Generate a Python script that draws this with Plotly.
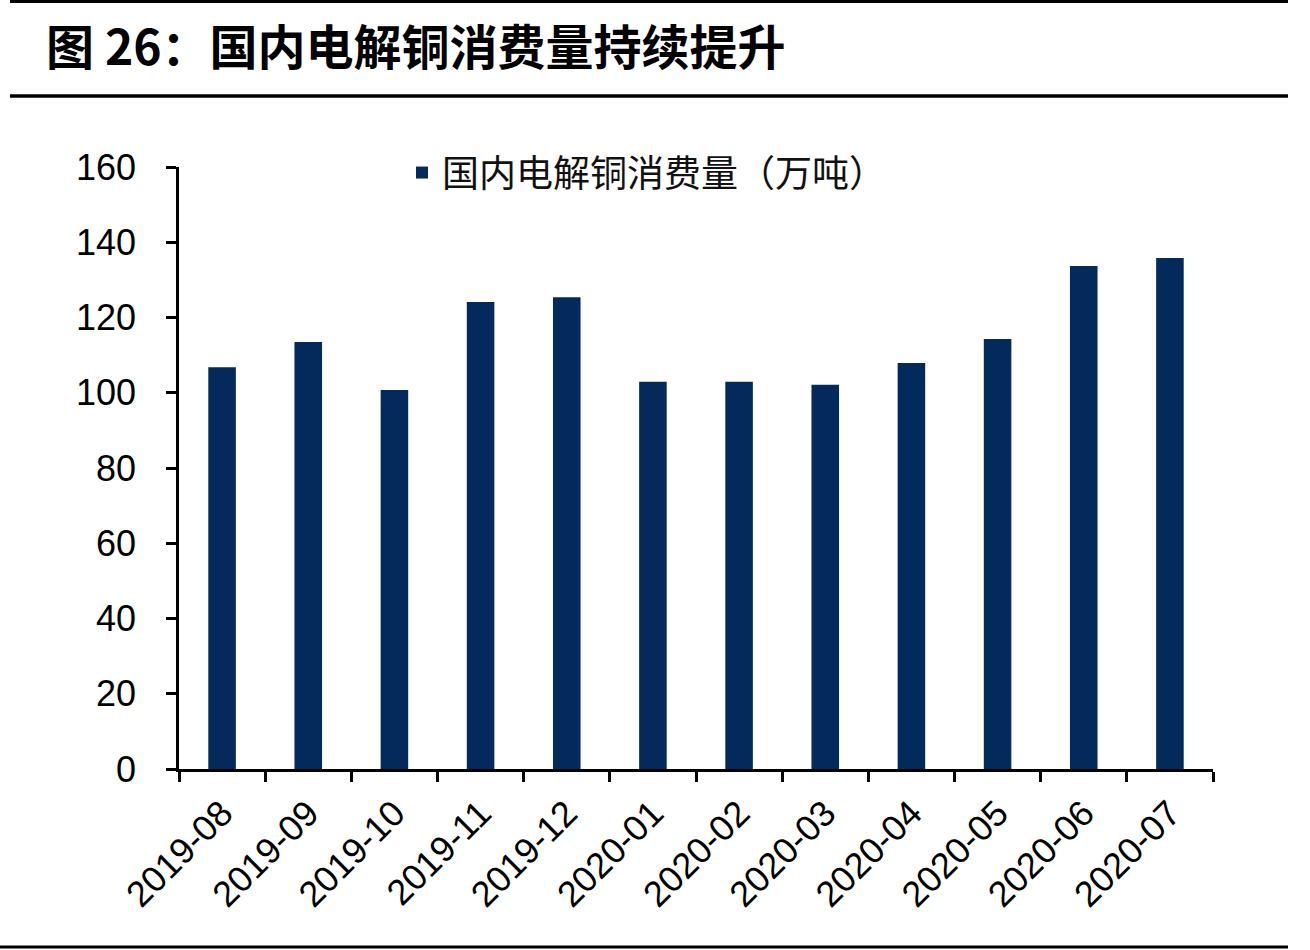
import plotly.graph_objects as go

categories = ["2019-08", "2019-09", "2019-10", "2019-11", "2019-12", "2020-01",
              "2020-02", "2020-03", "2020-04", "2020-05", "2020-06", "2020-07"]
consumption = [106.8, 113.5, 100.7, 124.1, 125.4, 102.9, 102.9, 102.1, 107.9, 114.3, 133.7, 135.8]
series_name = "国内电解铜消费量（万吨）"
title_text = "图 26：国内电解铜消费量持续提升"
y_ticks = [0, 20, 40, 60, 80, 100, 120, 140, 160]

W, H = 1310, 950
L, R, T, B = 179, 1213, 167, 769
pw, ph = R - L, B - T

def px(x):
    return (x - L) / pw

def py(y):
    return (B - y) / ph

bar_color = "#042a5c"
tick_font = dict(family="Liberation Sans, Arial, sans-serif", size=36, color="#000000")

fig = go.Figure()
fig.add_trace(go.Bar(
    x=categories, y=consumption, name=series_name,
    marker=dict(color=bar_color, line=dict(width=0)),
    width=0.32, showlegend=True,
))

fig.update_layout(
    width=W, height=H,
    margin=dict(l=L, r=W - R, t=T, b=H - B, pad=0),
    paper_bgcolor="#ffffff", plot_bgcolor="#ffffff",
    showlegend=True,
    legend=dict(
        x=px(402), y=py(173), xanchor="left", yanchor="middle",
        orientation="h", bgcolor="rgba(0,0,0,0)",
        font=dict(family="Noto Sans CJK SC", size=37, color="#111111"),
    ),
    xaxis=dict(
        type="category", tickson="boundaries", ticks="outside", ticklen=10,
        tickwidth=2.5, tickcolor="#000000", showline=True, linecolor="#000000",
        linewidth=2.5, showgrid=False, tickangle=-45, tickfont=tick_font,
        zeroline=False, range=[-0.5, len(categories) - 0.5],
        ticklabelstandoff=6,
    ),
    yaxis=dict(
        range=[0, 160], tickvals=y_ticks, ticks="outside", ticklen=10,
        tickwidth=2.5, tickcolor="#000000", showline=True, linecolor="#000000",
        linewidth=2.5, showgrid=False, zeroline=False, tickfont=tick_font,
        ticklabelstandoff=23,
    ),
    bargap=0.68,
)

# title
fig.add_annotation(
    x=px(44), y=py(44), xref="paper", yref="paper", xanchor="left", yanchor="middle",
    text="<b>" + title_text + "</b>", showarrow=False,
    font=dict(family="Noto Sans CJK SC", size=48, color="#000000"),
)

# decorative rules
fig.add_shape(type="line", xref="paper", yref="paper", x0=px(10), x1=px(1288),
              y0=py(1.5), y1=py(1.5), line=dict(color="#000000", width=3))
fig.add_shape(type="line", xref="paper", yref="paper", x0=px(10), x1=px(1288),
              y0=py(96), y1=py(96), line=dict(color="#000000", width=3.5))
fig.add_shape(type="line", xref="paper", yref="paper", x0=px(0), x1=px(1288),
              y0=py(947), y1=py(947), line=dict(color="#000000", width=3))

fig.write_html("out.html")
